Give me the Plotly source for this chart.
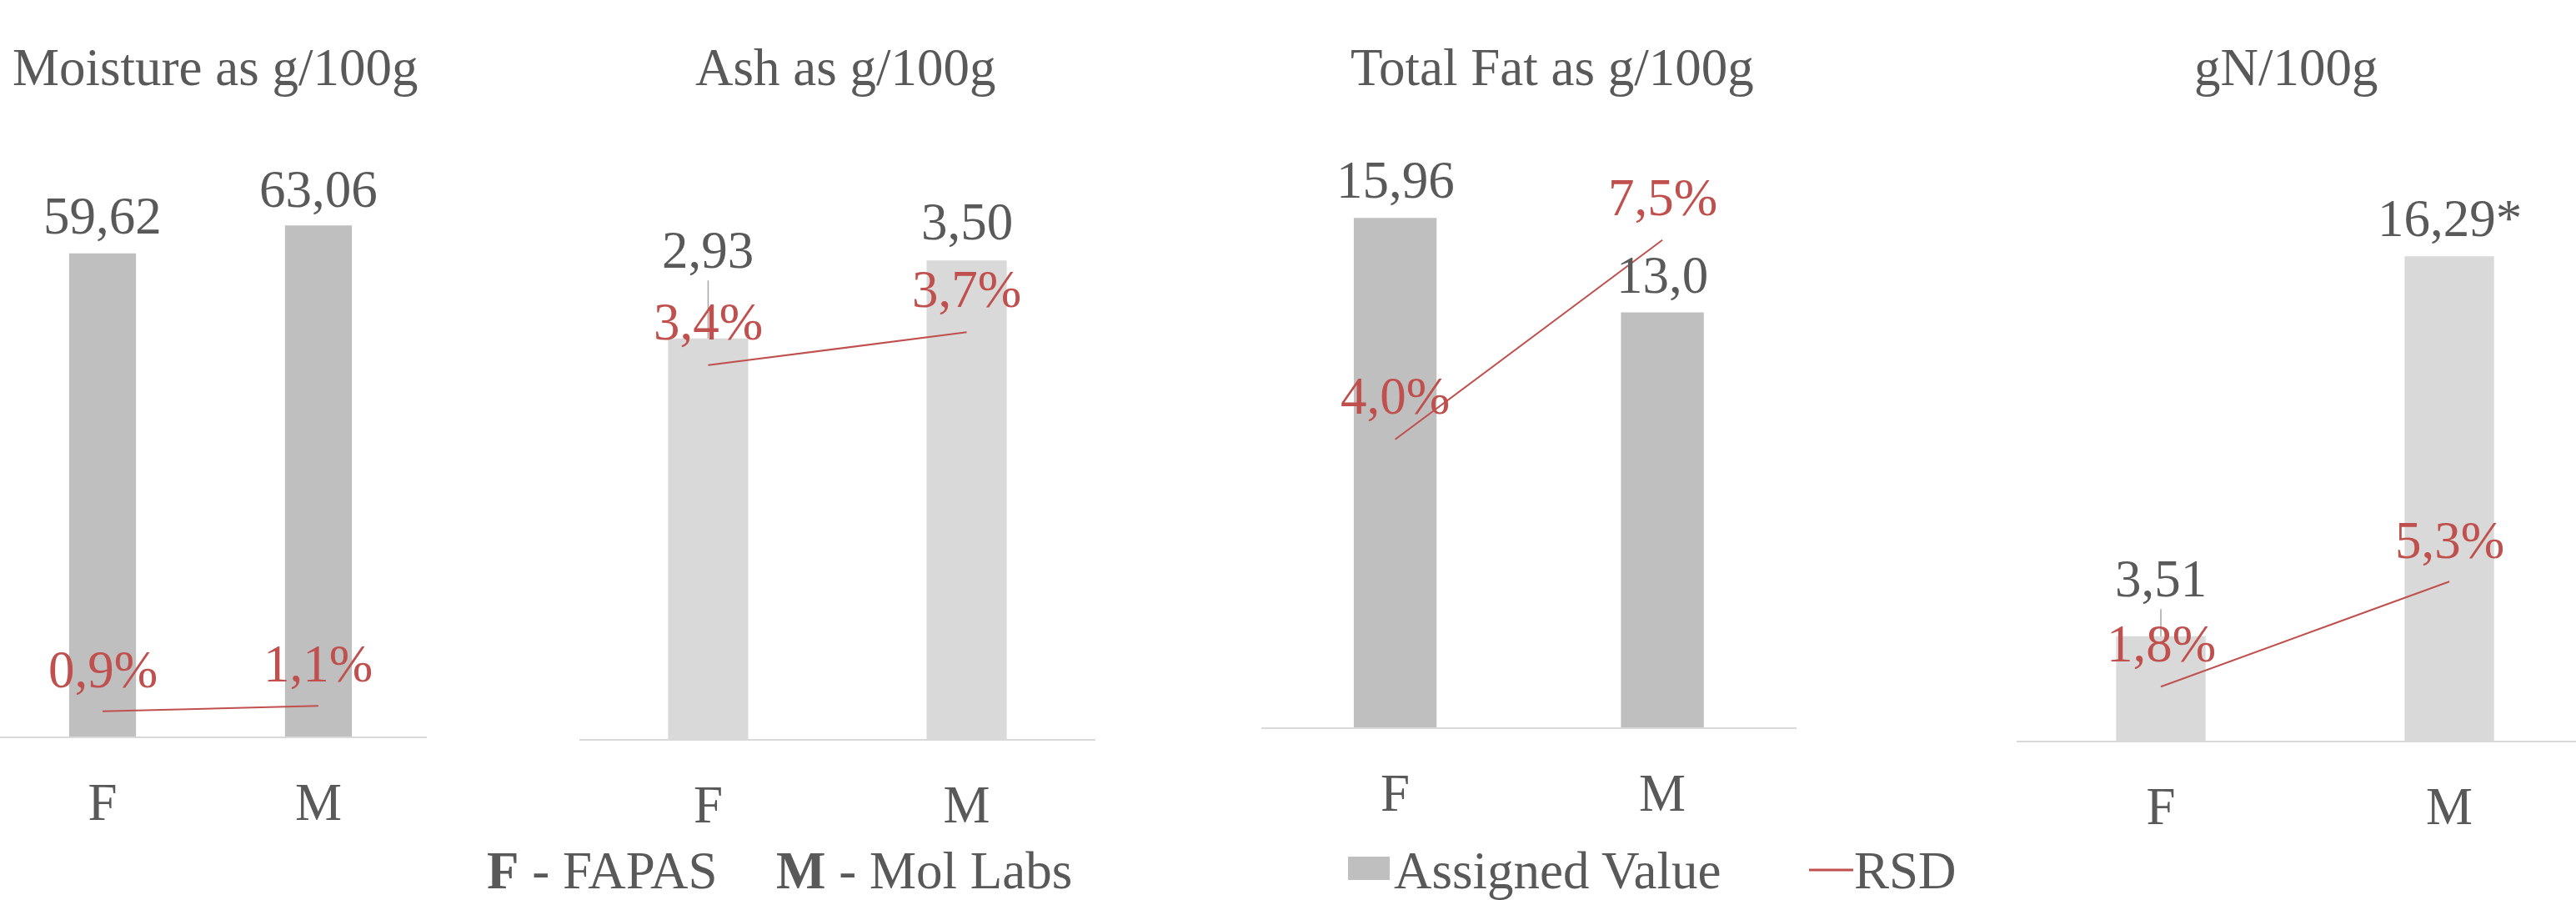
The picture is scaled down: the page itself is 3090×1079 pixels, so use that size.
import plotly.graph_objects as go

# ---------------- data ----------------
categories = ["F", "M"]
panel_titles = ["Moisture as g/100g", "Ash as g/100g", "Total Fat as g/100g", "gN/100g"]

moisture_values = [59.62, 63.06]
ash_values = [2.93, 3.50]
fat_values = [15.96, 13.0]
nitrogen_values = [3.51, 16.29]

moisture_labels = ["59,62", "63,06"]
ash_labels = ["2,93", "3,50"]
fat_labels = ["15,96", "13,0"]
nitrogen_labels = ["3,51", "16,29*"]

moisture_rsd = [0.9, 1.1]
ash_rsd = [3.4, 3.7]
fat_rsd = [4.0, 7.5]
nitrogen_rsd = [1.8, 5.3]

values = [moisture_values, ash_values, fat_values, nitrogen_values]
value_labels = [moisture_labels, ash_labels, fat_labels, nitrogen_labels]
rsds = [moisture_rsd, ash_rsd, fat_rsd, nitrogen_rsd]

# ---------------- style / layout ----------------
W, H = 3090, 1079
FONT = "Liberation Serif, Times New Roman, serif"
TXT = "#595959"
RED = "#C0504D"
FS = 63

bar_colors = ["#BFBFBF", "#D9D9D9", "#BFBFBF", "#D9D9D9"]
x_px = [(0, 512), (695, 1314), (1513, 2155), (2419, 3090)]
x_ranges = [[-0.475, 1.502], [-0.498, 1.498], [-0.501, 1.502], [-0.5, 1.439]]
base_px = [883, 886, 872, 888]
top_px = 150
y_ranges = [[0, 75.45], [0, 4.49], [0, 18.87], [0, 20.70]]
y2_ranges = [[0, 21.88], [0, 5.584], [-1.054, 9.517], [0, 20.5]]
title_cx = [258, 1014, 1862, 2742]
title_cy = 80
val_off = [[46, 44], [107, 47], [46, 46], [70, 46]]
val_leader = [[False, False], [True, False], [False, False], [True, False]]
rsd_off = [[51, 51], [53, 52], [53, 52], [52, 50]]
TEXT_DY = 1  # correction between glyph centre and text box centre
LEG_CY = 1043

fig = go.Figure()
layout = dict(
    width=W, height=H, margin=dict(l=0, r=0, t=0, b=0),
    paper_bgcolor="white", plot_bgcolor="rgba(0,0,0,0)",
    showlegend=False, bargap=0.69,
    font=dict(family=FONT, size=FS, color=TXT),
)
annotations = []
shapes = []

for i in range(4):
    n = i + 1
    xs = "" if n == 1 else str(n)
    xa, ya, ya2 = "x" + xs, "y" + xs, "y" + str(n + 4)
    fig.add_trace(go.Bar(x=categories, y=values[i], marker=dict(color=bar_colors[i], line=dict(width=0)),
                         xaxis=xa, yaxis=ya, name="Assigned Value"))
    fig.add_trace(go.Scatter(x=categories, y=rsds[i], mode="lines", line=dict(color=RED, width=2),
                             xaxis=xa, yaxis=ya2, name="RSD"))
    ydom = [1 - base_px[i] / H, 1 - top_px / H]
    layout["xaxis" + xs] = dict(
        domain=[x_px[i][0] / W, x_px[i][1] / W], range=x_ranges[i], anchor=ya,
        showline=True, linecolor="#D9D9D9", linewidth=2, showgrid=False, zeroline=False,
        ticks="", tickfont=dict(family=FONT, size=FS, color=TXT), ticklabelstandoff=22,
        type="category", automargin=False,
    )
    layout["yaxis" + xs] = dict(domain=ydom, range=y_ranges[i], anchor=xa, visible=False,
                                showgrid=False, zeroline=False)
    layout["yaxis" + str(n + 4)] = dict(range=y2_ranges[i], overlaying=ya, anchor=xa,
                                        visible=False, showgrid=False, zeroline=False, side="right")
    # title
    annotations.append(dict(text=panel_titles[i], xref="paper", yref="paper",
                            x=title_cx[i] / W, y=1 - (title_cy + TEXT_DY) / H,
                            xanchor="center", yanchor="middle", showarrow=False,
                            font=dict(family=FONT, size=FS, color=TXT)))
    for j, c in enumerate(categories):
        # assigned value labels
        if val_leader[i][j]:
            annotations.append(dict(text=value_labels[i][j], x=c, y=values[i][j], xref=xa, yref=ya,
                                    showarrow=True, ax=0, ay=-(val_off[i][j] - TEXT_DY),
                                    arrowhead=0, arrowwidth=1.5, arrowcolor="#A6A6A6", standoff=0,
                                    font=dict(family=FONT, size=FS, color=TXT)))
        else:
            annotations.append(dict(text=value_labels[i][j], x=c, y=values[i][j], xref=xa, yref=ya,
                                    showarrow=False, yshift=val_off[i][j] - TEXT_DY,
                                    xanchor="center", yanchor="middle",
                                    font=dict(family=FONT, size=FS, color=TXT)))
        # RSD labels
        annotations.append(dict(text=f"{rsds[i][j]:.1f}%".replace(".", ","), x=c, y=rsds[i][j],
                                xref=xa, yref=ya2, showarrow=False, yshift=rsd_off[i][j] - TEXT_DY,
                                xanchor="center", yanchor="middle",
                                font=dict(family=FONT, size=FS, color=RED)))

# key for abbreviations
leg_y = 1 - (LEG_CY + TEXT_DY) / H
annotations.append(dict(text="<b>F</b> - FAPAS", xref="paper", yref="paper", x=582 / W, y=leg_y,
                        xanchor="left", yanchor="middle", showarrow=False,
                        font=dict(family=FONT, size=FS, color=TXT)))
annotations.append(dict(text="<b>M</b> - Mol Labs", xref="paper", yref="paper", x=929 / W, y=leg_y,
                        xanchor="left", yanchor="middle", showarrow=False,
                        font=dict(family=FONT, size=FS, color=TXT)))
# series legend
shapes.append(dict(type="rect", xref="paper", yref="paper", x0=1617 / W, x1=1667 / W,
                   y0=1 - (LEG_CY + 12) / H, y1=1 - (LEG_CY - 16) / H, fillcolor="#BFBFBF",
                   line=dict(width=0)))
annotations.append(dict(text="Assigned Value", xref="paper", yref="paper", x=1670 / W, y=leg_y,
                        xanchor="left", yanchor="middle", showarrow=False,
                        font=dict(family=FONT, size=FS, color=TXT)))
shapes.append(dict(type="line", xref="paper", yref="paper", x0=2170 / W, x1=2223 / W,
                   y0=1 - LEG_CY / H, y1=1 - LEG_CY / H, line=dict(color=RED, width=3)))
annotations.append(dict(text="RSD", xref="paper", yref="paper", x=2222 / W, y=leg_y,
                        xanchor="left", yanchor="middle", showarrow=False,
                        font=dict(family=FONT, size=FS, color=TXT)))

layout["annotations"] = annotations
layout["shapes"] = shapes
fig.update_layout(**layout)
fig.write_html(
    "out.html",
    config={"displayModeBar": False},
    post_script="document.body.style.margin='0';document.body.style.padding='0';"
                "document.body.style.overflow='hidden';",
)
